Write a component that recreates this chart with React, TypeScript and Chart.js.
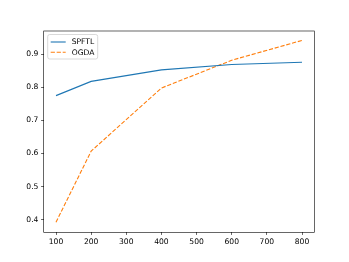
import React, { useEffect, useRef } from "react";
import { Chart, registerables } from "chart.js";

Chart.register(...registerables);

const xValues = [100, 200, 400, 600, 800];
const spftl = [0.775, 0.818, 0.853, 0.869, 0.876];
const ogda = [0.392, 0.607, 0.798, 0.882, 0.942];
const seriesNames = ["SPFTL", "OGDA"];
const xTicks = [100, 200, 300, 400, 500, 600, 700, 800];
const yTicks = [0.4, 0.5, 0.6, 0.7, 0.8, 0.9];

const FONT = "'DejaVu Sans', sans-serif";
const FS = 7.6;

const framePlugin = {
  id: "frame",
  afterDraw(chart: any) {
    const { ctx, chartArea } = chart;
    const { left, top, right, bottom } = chartArea;
    ctx.save();
    ctx.strokeStyle = "#000";
    ctx.lineWidth = 0.6;
    ctx.strokeRect(left, top, right - left, bottom - top);

    // legend
    const bx = left + 4;
    const by = top + 3.5;
    const bw = 50;
    const bh = 24.5;
    const r = 2;
    ctx.beginPath();
    ctx.moveTo(bx + r, by);
    ctx.lineTo(bx + bw - r, by);
    ctx.arcTo(bx + bw, by, bx + bw, by + r, r);
    ctx.lineTo(bx + bw, by + bh - r);
    ctx.arcTo(bx + bw, by + bh, bx + bw - r, by + bh, r);
    ctx.lineTo(bx + r, by + bh);
    ctx.arcTo(bx, by + bh, bx, by + bh - r, r);
    ctx.lineTo(bx, by + r);
    ctx.arcTo(bx, by, bx + r, by, r);
    ctx.closePath();
    ctx.fillStyle = "rgba(255,255,255,0.8)";
    ctx.fill();
    ctx.strokeStyle = "#cccccc";
    ctx.lineWidth = 0.75;
    ctx.stroke();

    const rows = [
      { name: seriesNames[0], color: "#1f77b4", dash: [] as number[] },
      { name: seriesNames[1], color: "#ff7f0e", dash: [4.2, 1.8] },
    ];
    ctx.font = `${FS}px ${FONT}`;
    ctx.textBaseline = "middle";
    ctx.textAlign = "left";
    rows.forEach((row, i) => {
      const y = by + 7.5 + i * 10.3;
      ctx.beginPath();
      ctx.setLineDash(row.dash);
      ctx.strokeStyle = row.color;
      ctx.lineWidth = 1.1;
      ctx.moveTo(bx + 3, y);
      ctx.lineTo(bx + 18, y);
      ctx.stroke();
      ctx.setLineDash([]);
      ctx.fillStyle = "#000";
      ctx.fillText(row.name, bx + 24, y + 0.5);
    });
    ctx.restore();
  },
};

export default function App() {
  const ref = useRef<HTMLCanvasElement | null>(null);
  useEffect(() => {
    if (!ref.current) return;
    const chart = new Chart(ref.current, {
      type: "line",
      data: {
        datasets: [
          {
            label: seriesNames[0],
            data: xValues.map((x, i) => ({ x, y: spftl[i] })),
            borderColor: "#1f77b4",
            borderWidth: 1.1,
            pointRadius: 0,
            fill: false,
            tension: 0,
          },
          {
            label: seriesNames[1],
            data: xValues.map((x, i) => ({ x, y: ogda[i] })),
            borderColor: "#ff7f0e",
            borderWidth: 1.1,
            borderDash: [4.2, 1.8],
            pointRadius: 0,
            fill: false,
            tension: 0,
          },
        ],
      },
      options: {
        animation: false,
        responsive: false,
        maintainAspectRatio: false,
        layout: { padding: { left: 0, right: 34.7, top: 31, bottom: 0 } },
        plugins: {
          legend: { display: false },
          tooltip: { enabled: false },
        },
        scales: {
          x: {
            type: "linear",
            min: 65,
            max: 835,
            afterBuildTicks: (s: any) => {
              s.ticks = xTicks.map((v) => ({ value: v }));
            },
            afterFit: (s: any) => {
              s.height = 29.7;
            },
            border: { display: false },
            grid: {
              drawOnChartArea: false,
              drawTicks: true,
              tickLength: 2.65,
              color: "#000",
              lineWidth: 0.6,
            },
            ticks: {
              color: "#000",
              font: { family: FONT, size: FS },
              padding: 2.2,
              maxRotation: 0,
              autoSkip: false,
              callback: (v: any) => String(v),
            },
          },
          y: {
            type: "linear",
            min: 0.3615,
            max: 0.9705,
            afterBuildTicks: (s: any) => {
              s.ticks = yTicks.map((v) => ({ value: v }));
            },
            afterFit: (s: any) => {
              s.width = 43.7;
            },
            border: { display: false },
            grid: {
              drawOnChartArea: false,
              drawTicks: true,
              tickLength: 2.65,
              color: "#000",
              lineWidth: 0.6,
            },
            ticks: {
              color: "#000",
              font: { family: FONT, size: FS },
              padding: 2.65,
              autoSkip: false,
              callback: (v: any) => Number(v).toFixed(1),
            },
          },
        },
      },
      plugins: [framePlugin],
    } as any);
    return () => chart.destroy();
  }, []);
  return (
    <div style={{ position: "fixed", left: 0, top: 0, width: 349, height: 262, background: "#fff" }}>
      <canvas ref={ref} width={349} height={262} style={{ width: 349, height: 262, display: "block" }} />
    </div>
  );
}
